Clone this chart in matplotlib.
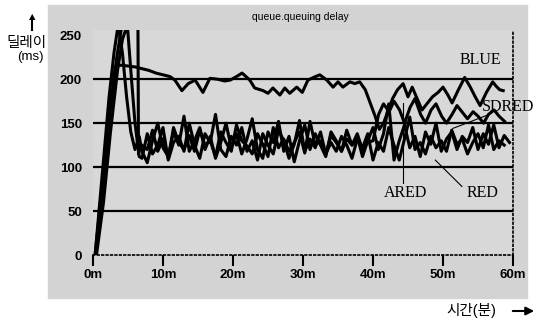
import numpy as np
import matplotlib
matplotlib.use("Agg")
import matplotlib.pyplot as plt
from matplotlib.patches import Rectangle

plt.rcParams['font.family'] = ['Liberation Sans', 'Noto Sans CJK KR', 'DejaVu Sans']

# --- data ---
blue_t = [0.3, 1.2, 2.2, 3.2, 4.0, 5.0, 6.0, 7.0, 8.0, 9.0, 10.0, 11.0, 11.7, 12.7, 13.6,
          14.6, 15.7, 16.7, 17.8, 18.8, 19.6, 20.5, 21.3, 22.4, 23.1, 24.3, 25.0, 25.7,
          26.7, 27.4, 28.1, 29.1, 29.9, 30.7, 31.5, 32.4, 33.4, 34.3, 35.0, 35.7, 36.7,
          37.4, 38.1, 38.9, 39.6, 40.3, 40.9, 41.5, 42.2, 42.8, 43.5, 44.3, 45.0, 45.6,
          46.3, 47.0, 47.7, 48.5, 49.3, 50.0, 50.7, 51.3, 52.2, 53.1, 53.9, 54.6, 55.3,
          56.2, 57.1, 57.6, 58.1, 58.6]
blue_v = [0, 70, 150, 214, 216, 215, 214, 212, 210, 207, 205, 203, 199, 187, 195,
          199, 185, 201, 200, 198, 199, 203, 207, 199, 190, 187, 184, 190,
          182, 190, 184, 191, 185, 199, 202, 205, 199, 191, 197, 191, 197,
          195, 197, 188, 173, 158, 143, 150, 165, 178, 188, 195, 180, 191,
          178, 165, 172, 180, 185, 191, 182, 173, 188, 202, 191, 180, 170,
          185, 197, 192, 188, 187]

# start-up transients
ared_t0 = [0.3, 1.3, 2.3, 3.0, 3.6, 4.2, 4.8, 5.4, 6.0, 6.6]
ared_v0 = [0, 90, 180, 230, 262, 230, 180, 140, 120, 135]
red_t0 = [0.5, 1.5, 2.5, 3.5, 4.2, 4.9, 5.5, 6.0, 6.6]
red_v0 = [0, 60, 140, 210, 245, 262, 200, 150, 112]
sdred_t0 = [0.4, 1.4, 2.4, 3.4, 4.3, 5.0, 5.7, 6.4, 6.5, 6.8]
sdred_v0 = [0, 75, 160, 225, 270, 290, 300, 300, 115, 125]

# steady part, sampled every 0.75 min from 7 min
ared_v = [118, 105, 130, 150, 122, 112, 140, 125, 158, 118, 130, 145, 120, 135, 110,
          128, 150, 122, 138, 115, 132, 155, 120, 110, 140, 128, 152, 118, 135, 106,
          130, 148, 120, 138, 125, 112, 140, 130, 118, 142, 125, 135, 112, 130, 145,
          120, 138, 172, 108, 130, 148, 122, 135, 112, 140, 126, 150, 118, 132, 140,
          120, 135, 128, 145, 120, 138, 126, 148, 122, 136, 128]
red_v = [110, 138, 115, 125, 145, 108, 128, 135, 118, 150, 125, 110, 138, 128, 160,
         120, 112, 135, 125, 145, 118, 130, 108, 138, 125, 115, 142, 130, 110, 126,
         153, 118, 132, 122, 140, 115, 128, 118, 135, 125, 110, 132, 122, 138, 108,
         128, 118, 145, 125, 108, 132, 157, 120, 128, 115, 135, 122, 130, 118, 142,
         126, 132, 115, 128, 138, 122, 148, 120, 130, 125]
sdred_v = [125, 120, 142, 118, 132, 110, 145, 128, 120, 136, 118, 142, 125, 130, 112,
           140, 128, 118, 148, 130, 124, 115, 138, 126, 112, 145, 122, 132, 118, 128,
           140, 116, 152, 125, 130, 114, 136, 128, 118, 132, 125, 138, 120, 128]
sdred_t2 = [40.0, 40.8, 41.5, 42.3, 43.0, 43.8, 44.5, 45.3, 46.0, 46.8, 47.5, 48.3, 49.0,
            49.8, 50.5, 51.3, 52.0, 52.8, 53.5, 54.3, 55.0, 55.8, 56.5, 57.3, 58.0, 58.8]
sdred_v2 = [130, 160, 172, 163, 175, 165, 150, 168, 178, 160, 150, 165, 172,
            158, 150, 160, 170, 162, 155, 163, 158, 150, 160, 165, 158, 152]

yticks = [0, 50, 100, 150, 200, 250]
xticks = [0, 10, 20, 30, 40, 50, 60]
xlabels = ['0m', '10m', '20m', '30m', '40m', '50m', '60m']


def steady(t0, v0, v, t_extra=None, v_extra=None):
    t = list(t0) + list(7.0 + 0.75 * np.arange(len(v)))
    y = list(v0) + list(v)
    if t_extra is not None:
        t += list(t_extra)
        y += list(v_extra)
    return t, y


W, H = 539, 323
fig = plt.figure(figsize=(W / 100, H / 100), dpi=100)

# gray scanned panel
fig.patches.append(Rectangle((48 / W, 1 - 298 / H), 479 / W, 293 / H,
                             transform=fig.transFigure, color='#d3d3d3', zorder=-10))

ax = fig.add_axes([93 / W, 1 - 255 / H, 420 / W, 225 / H])
ax.set_facecolor('#d8d8d8')

for g in [50, 100, 150, 200]:
    ax.axhline(g, color='black', lw=1.6, zorder=1)

lw = 2.2
ax.plot(blue_t, blue_v, color='black', lw=lw, zorder=3)
t, y = steady(ared_t0, ared_v0, ared_v)
ax.plot(t, y, color='black', lw=lw, zorder=3)
t, y = steady(red_t0, red_v0, red_v)
ax.plot(t, y, color='black', lw=lw, zorder=3)
t, y = steady(sdred_t0, sdred_v0, sdred_v, sdred_t2, sdred_v2)
ax.plot(t, y, color='black', lw=lw, zorder=3)

ax.set_xlim(0, 60)
ax.set_ylim(0, 256)
ax.set_xticks(xticks)
ax.set_xticklabels(xlabels)
ax.set_yticks(yticks)
ax.tick_params(axis='x', length=8, width=1.5, direction='out', pad=2)
ax.tick_params(axis='y', length=0, pad=8)
for lab in ax.get_xticklabels() + ax.get_yticklabels():
    lab.set_fontweight('bold')
    lab.set_fontsize(9.5)
    lab.set_family(['Liberation Sans Narrow', 'Liberation Sans'])

for s in ['left', 'top']:
    ax.spines[s].set_visible(False)
for s in ['bottom', 'right']:
    ax.spines[s].set_linestyle(':')
    ax.spines[s].set_linewidth(1.2)

# series labels and leader lines
serif = ['Liberation Serif', 'DejaVu Serif']
ax.text(55.3, 222, 'BLUE', family=serif, fontsize=11.5, ha='center', va='center')
ax.text(55.6, 168, 'SDRED', family=serif, fontsize=11.5, ha='left', va='center', clip_on=False)
ax.text(44.6, 70, 'ARED', family=serif, fontsize=11.5, ha='center', va='center')
ax.text(55.6, 70, 'RED', family=serif, fontsize=11.5, ha='center', va='center')
ax.plot([44.3, 44.3], [173, 82], color='black', lw=0.8, zorder=2)
ax.plot([48.9, 52.7], [108, 78], color='black', lw=0.8, zorder=2)
ax.plot([51.4, 56.3], [144, 159], color='black', lw=0.8, zorder=2)

fig.text(300 / W, 1 - 17 / H, 'queue.queuing delay', fontsize=7.5, ha='center', va='center')

# axis captions
fig.text(27 / W, 1 - 43 / H, '딜레이', fontsize=10.5, ha='center', va='center')
fig.text(30 / W, 1 - 57 / H, '(ms)', fontsize=9.5, ha='center', va='center')
fig.add_artist(plt.Line2D([32 / W, 32 / W], [1 - 30 / H, 1 - 18 / H], color='black', lw=1.5))
fig.text(32 / W, 1 - 17 / H, '▲', fontsize=6, ha='center', va='center', family=['DejaVu Sans'])
fig.text(471 / W, 1 - 310 / H, '시간(분)', fontsize=10.5, ha='center', va='center')
ax.annotate('', xy=(537 / W, 1 - 311 / H), xytext=(510 / W, 1 - 311 / H),
            xycoords='figure fraction',
            arrowprops=dict(arrowstyle='-|>', color='black', lw=1.5, mutation_scale=12))

fig.savefig('out.png', dpi=100)
